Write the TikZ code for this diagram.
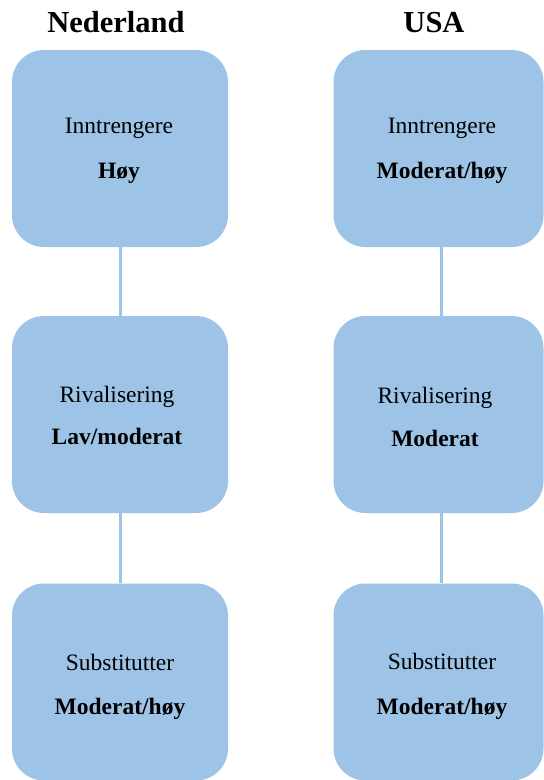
\documentclass[tikz,border=0pt]{standalone}
\usepackage{fontspec}
\setmainfont{Liberation Serif}
\definecolor{boxblue}{HTML}{9DC3E6}
\begin{document}
\begin{tikzpicture}[x=1pt,y=-1pt,
  card/.style={fill=boxblue, draw=none, rounded corners=32pt,
    minimum width=216pt, minimum height=197pt, inner sep=0pt},
  link/.style={draw=boxblue, line width=3pt},
  head/.style={font=\fontsize{30.5}{34}\selectfont\bfseries, inner sep=0pt, anchor=base},
  lbl/.style={font=\fontsize{23.5}{28}\selectfont, inner sep=0pt, anchor=base},
  val/.style={font=\fontsize{23.5}{28}\selectfont\bfseries, inner sep=0pt, anchor=base}]
\useasboundingbox (0,0) rectangle (544,780);
\begin{scope}
\clip (0,0) rectangle (544,780);

% column headings
\node[head] (hNL) at (116,32) {Nederland};
\node[head] (hUS) at (434,32) {USA};

% Nederland column
\node[card] (nl1) at (120,148.5) {};
\node[card] (nl2) at (120,414.5) {};
\node[card] (nl3) at (120,682) {};
% USA column (slightly narrower boxes)
\node[card, minimum width=210pt] (us1) at (438.5,148.5) {};
\node[card, minimum width=210pt] (us2) at (438.5,414.5) {};
\node[card, minimum width=210pt] (us3) at (438.5,682) {};

% connectors
\draw[link] (nl1.south) -- (nl2.north);
\draw[link] (nl2.south) -- (nl3.north);
\draw[link] ([xshift=2.5pt]us1.south) -- ([xshift=2.5pt]us2.north);
\draw[link] ([xshift=2.5pt]us2.south) -- ([xshift=2.5pt]us3.north);

% labels, Nederland
\node[lbl] (nl1a) at (119,133) {Inntrengere};
\node[val] (nl1b) at (119,178) {Høy};
\node[lbl] (nl2a) at (117,402) {Rivalisering};
\node[val] (nl2b) at (117,444) {Lav/moderat};
\node[lbl] (nl3a) at (120,670) {Substitutter};
\node[val] (nl3b) at (120,714) {Moderat/høy};

% labels, USA
\node[lbl] (us1a) at (442,133) {Inntrengere};
\node[val] (us1b) at (442,178) {Moderat/høy};
\node[lbl] (us2a) at (435,403) {Rivalisering};
\node[val] (us2b) at (435,446) {Moderat};
\node[lbl] (us3a) at (442,669) {Substitutter};
\node[val] (us3b) at (442,714) {Moderat/høy};
\end{scope}
\end{tikzpicture}
\end{document}
